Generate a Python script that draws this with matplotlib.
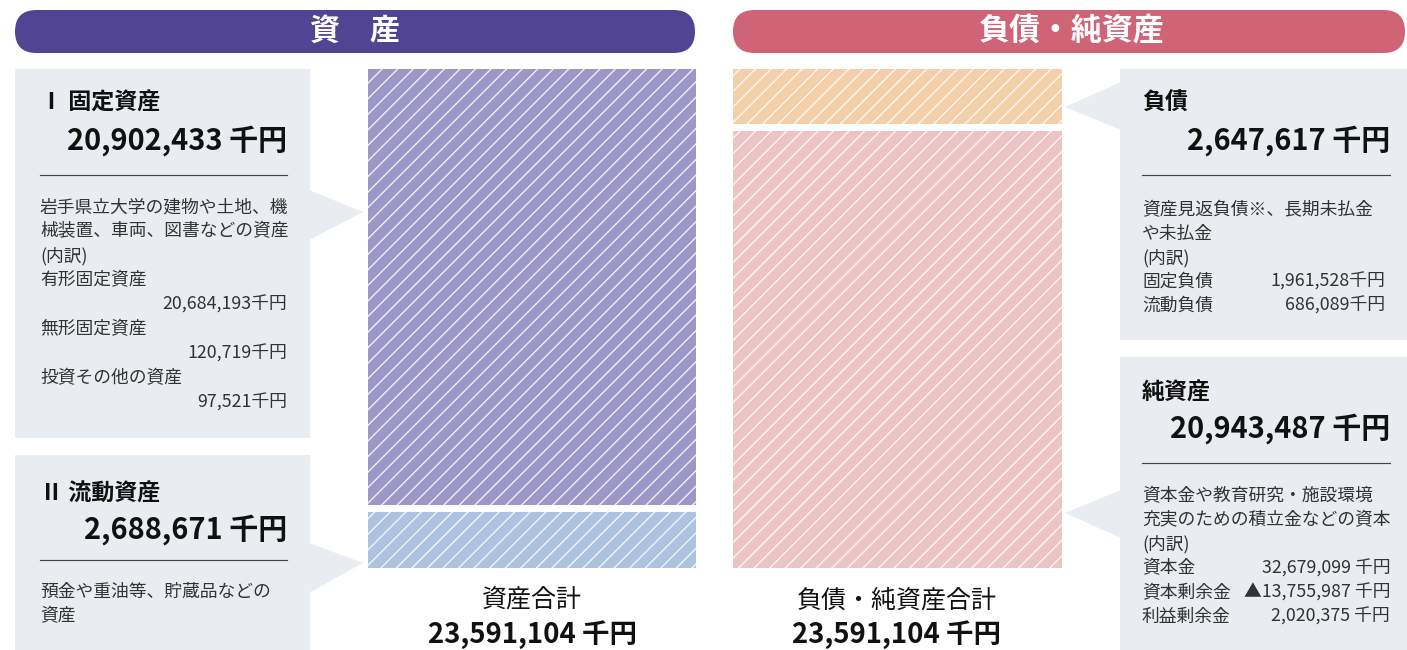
import matplotlib.pyplot as plt
from matplotlib.patches import FancyBboxPatch, Rectangle, Polygon

# =========================
# Data (thousand yen)
# =========================
asset_labels = ["Ⅰ 固定資産", "Ⅱ 流動資産"]
asset_values = [20902433, 2688671]
asset_colors = ["#9c97c6", "#abc3de"]

liab_labels = ["負債", "純資産"]
liab_values = [2647617, 20943487]
liab_colors = ["#f3d0a9", "#ecc4c4"]

total_value = 23591104

fixed_desc = ["岩手県立大学の建物や土地、機", "械装置、車両、図書などの資産", "(内訳)"]
fixed_items = ["有形固定資産", "無形固定資産", "投資その他の資産"]
fixed_item_values = [20684193, 120719, 97521]

current_desc = ["預金や重油等、貯蔵品などの", "資産"]

liab_desc = ["資産見返負債※、長期未払金", "や未払金", "(内訳)"]
liab_items = ["固定負債", "流動負債"]
liab_item_values = [1961528, 686089]

net_desc = ["資本金や教育研究・施設環境", "充実のための積立金などの資本", "(内訳)"]
net_items = ["資本金", "資本剰余金", "利益剰余金"]
net_item_values = [32679099, -13755987, 2020375]

# =========================
# Style
# =========================
DPI = 140
W, H = 1407, 650
plt.rcParams['font.family'] = ['Noto Sans CJK JP', 'DejaVu Sans']
plt.rcParams['hatch.linewidth'] = 0.7


def pt(pixels):
    return pixels * 72 / DPI


def fmt(v):
    return f"▲{-v:,}" if v < 0 else f"{v:,}"


GRAY = "#e9ecf0"
TXT = "#111111"
SUB = "#333333"

fig = plt.figure(figsize=(W / DPI, H / DPI), dpi=DPI)
ax = fig.add_axes([0, 0, 1, 1])
ax.set_xlim(0, W)
ax.set_ylim(H, 0)
ax.axis("off")

# =========================
# Headers
# =========================
ax.add_patch(FancyBboxPatch((15, 10), 680, 43, boxstyle="round,pad=0,rounding_size=21.5",
                            fc="#514593", ec="none"))
ax.add_patch(FancyBboxPatch((733, 10), 672, 43, boxstyle="round,pad=0,rounding_size=21.5",
                            fc="#ce6476", ec="none"))
ax.text(355, 31, "資　産", color="white", fontsize=pt(30), fontweight="bold", ha="center", va="center")
ax.text(1072, 31, "負債・純資産", color="white", fontsize=pt(31), fontweight="bold", ha="center", va="center")

# =========================
# Callout boxes
# =========================
def callout(x0, y0, x1, y1, tri):
    ax.add_patch(Rectangle((x0, y0), x1 - x0, y1 - y0, fc=GRAY, ec="none"))
    ax.add_patch(Polygon(tri, closed=True, fc=GRAY, ec="none"))


callout(15, 69, 310, 438, [(309, 190), (309, 240), (363, 212)])
callout(15, 455, 310, 660, [(309, 543), (309, 593), (363, 563)])
callout(1120, 69, 1410, 340, [(1121, 82), (1121, 130), (1065, 107)])
callout(1120, 357, 1410, 660, [(1121, 490), (1121, 538), (1065, 513)])

# =========================
# Stacked bars
# =========================
top, bottom, gap = 69, 568, 7
scale = (bottom - top - gap) / total_value

y = top
for v, c in zip(asset_values, asset_colors):
    h = v * scale
    ax.bar(532, h, width=328, bottom=y, color=c, hatch="///", edgecolor=(1, 1, 1, 0.85), linewidth=0)
    y += h + gap

y = top
for v, c in zip(liab_values, liab_colors):
    h = v * scale
    ax.bar(897.5, h, width=329, bottom=y, color=c, hatch="///", edgecolor=(1, 1, 1, 0.85), linewidth=0)
    y += h + gap

# =========================
# Box texts
# =========================
def heading(x_left, x_right, y_title, y_amount, y_rule, title, value):
    ax.text(x_left, y_title, title, fontsize=pt(23), fontweight="bold", color=TXT, ha="left", va="center")
    ax.text(x_right, y_amount, f"{value:,} 千円", fontsize=pt(29), fontweight="bold", color=TXT,
            ha="right", va="center")
    ax.plot([x_left, x_right], [y_rule, y_rule], color="#444444", lw=0.6)


DESC = pt(17.8)

# I fixed assets
heading(40, 287, 103, 141, 175, asset_labels[0], asset_values[0])
yy = 207
for line in fixed_desc:
    ax.text(40, yy, line, fontsize=DESC, color=SUB, ha="left", va="center")
    yy += 24.5
for name, v in zip(fixed_items, fixed_item_values):
    ax.text(40, yy, name, fontsize=DESC, color=SUB, ha="left", va="center")
    ax.text(287, yy + 24.5, f"{v:,}千円", fontsize=DESC, color=SUB, ha="right", va="center")
    yy += 49

# II current assets
heading(40, 287, 494, 530, 560, asset_labels[1], asset_values[1])
yy = 592
for line in current_desc:
    ax.text(40, yy, line, fontsize=DESC, color=SUB, ha="left", va="center")
    yy += 24

# Liabilities
heading(1142, 1390, 103, 141, 175, liab_labels[0], liab_values[0])
yy = 210
for line in liab_desc:
    ax.text(1142, yy, line, fontsize=DESC, color=SUB, ha="left", va="center")
    yy += 24
for name, v in zip(liab_items, liab_item_values):
    ax.text(1142, yy, name, fontsize=DESC, color=SUB, ha="left", va="center")
    ax.text(1385, yy, f"{v:,}千円", fontsize=DESC, color=SUB, ha="right", va="center")
    yy += 24

# Net assets
heading(1142, 1390, 393, 429, 463, liab_labels[1], liab_values[1])
yy = 496
for line in net_desc:
    ax.text(1142, yy, line, fontsize=DESC, color=SUB, ha="left", va="center")
    yy += 24.2
for name, v in zip(net_items, net_item_values):
    ax.text(1142, yy, name, fontsize=DESC, color=SUB, ha="left", va="center")
    ax.text(1390, yy, f"{fmt(v)} 千円", fontsize=DESC, color=SUB, ha="right", va="center")
    yy += 24.2

# =========================
# Totals under bars
# =========================
ax.text(532, 600, "資産合計", fontsize=pt(25), color=TXT, ha="center", va="center")
ax.text(532, 635, f"{total_value:,} 千円", fontsize=pt(27.5), fontweight="bold", color=TXT,
        ha="center", va="center")
ax.text(897, 600, "負債・純資産合計", fontsize=pt(25), color=TXT, ha="center", va="center")
ax.text(897, 635, f"{total_value:,} 千円", fontsize=pt(27.5), fontweight="bold", color=TXT,
        ha="center", va="center")

fig.savefig("out.png", dpi=DPI)
